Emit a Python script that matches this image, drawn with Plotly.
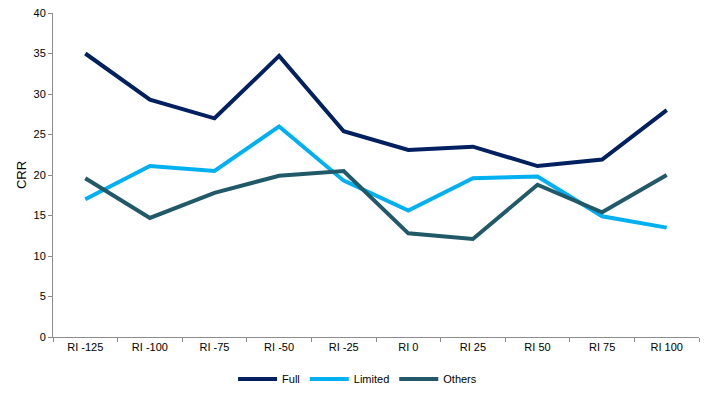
import plotly.graph_objects as go

categories = ["RI -125", "RI -100", "RI -75", "RI -50", "RI -25", "RI 0", "RI 25", "RI 50", "RI 75", "RI 100"]
full = [35.0, 29.3, 27.0, 34.7, 25.4, 23.1, 23.5, 21.1, 21.9, 28.0]
limited = [17.0, 21.1, 20.5, 26.0, 19.3, 15.6, 19.6, 19.8, 14.9, 13.5]
others = [19.6, 14.7, 17.8, 19.9, 20.5, 12.8, 12.1, 18.8, 15.4, 20.0]

fig = go.Figure()
for name, vals, col in [("Full", full, "#002060"), ("Limited", limited, "#00B0F0"), ("Others", others, "#215968")]:
    fig.add_trace(go.Scatter(x=categories, y=vals, mode="lines", name=name,
                             line=dict(color=col, width=4)))

fig.update_layout(
    width=718, height=393,
    margin=dict(l=53, r=19, t=13, b=56, autoexpand=False),
    paper_bgcolor="white", plot_bgcolor="white",
    font=dict(family="Liberation Sans, Arial", size=11, color="black"),
    showlegend=True,
    legend=dict(orientation="h", x=0.498, xanchor="center", xref="container",
                y=14/393, yanchor="middle", yref="container",
                font=dict(size=11), tracegroupgap=0, itemwidth=39),
)
fig.update_xaxes(type="category", range=[-0.5, 9.5], showline=True, linecolor="#8c8c8c", linewidth=1,
                 ticks="outside", tickson="boundaries", ticklen=4, tickcolor="#8c8c8c",
                 showgrid=False, zeroline=False, automargin=False)
fig.update_yaxes(range=[0, 40], dtick=5, showline=True, linecolor="#8c8c8c", linewidth=1,
                 ticks="outside", ticklen=4, tickcolor="#8c8c8c", showgrid=False, zeroline=False,
                 automargin=False, title=dict(text="CRR", standoff=3))
fig.write_html("out.html", config={"displayModeBar": False},
               post_script="document.body.style.margin='0';document.body.style.overflow='hidden';")
